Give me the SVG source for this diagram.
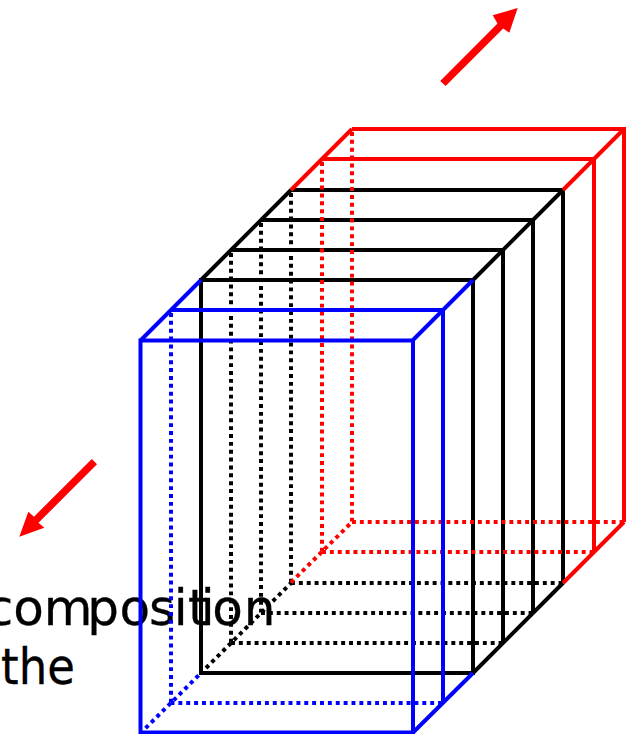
<svg xmlns="http://www.w3.org/2000/svg" width="629" height="734" viewBox="0 0 629 734">
<style>
.t{font-family:"DejaVu Sans",sans-serif;font-size:50px;fill:#000;stroke:#000;stroke-width:.3}
.s,.d{fill:none;stroke-width:4;stroke-linecap:butt;stroke-linejoin:miter}
.d{stroke-dasharray:3.93 3.94}
.k{stroke:#000}.b{stroke:#00f}.r{stroke:#f00}
.a{fill:#f00}
</style>
<rect width="629" height="734" fill="#fff"/>
<g id="caption">
<text class="t" x="-14.300 13.200 43.800 87.200 119.500 149 173.700 188 200.700 212.200 243.800" y="624.500">composition</text>
<text class="t" transform="translate(1 684) scale(.9 1)" x="0" y="0">the</text>
</g>
<g id="connectors">
<g id="black-layers">
<path class="d k" d="M231 253V643M261 223V613M291 193V583M231 643H503M261 613H533M291 583H563"/>
<path class="d k" d="M206 668L291 583"/>
<path class="s k" d="M201 280H473V673H201ZM231 250H503V643M261 220H533V613M291 190H563V583"/>
<path class="s k" d="M201 280L291 190M473 280L563 190M473 673L563 583"/>
</g>
<g id="red-layers">
<path class="d r" d="M322 162V552M352 132V522M322 552H594M352 522H624"/>
<path class="d r" d="M291 582.400L352 522"/>
<path class="s r" d="M322 159H594V552M352 129H624V522"/>
<path class="s r" d="M291 190L352 129M563 190L624 129M563 583L624 522"/>
</g>
<g id="blue-layers">
<path class="d b" d="M171 313V703M170.500 703H443"/>
<path class="d b" d="M145.600 728.100L201 673"/>
<path class="s b" d="M171 310H443V703M140.500 340.500H413V732.500H140.500Z"/>
<path class="s b" d="M140.500 340.500L201 280M413 340L473 280M413 732.500L473 673"/>
</g>
</g>
<g id="arrow-up">
<path class="a" d="M440.200 80.900L497.500 23.600L492.700 15.300L517.700 8L509.300 32.700L503.200 28.500L445.600 86.100Z"/>
</g>
<g id="arrow-down">
<path class="a" d="M97 464.300L38.500 522.800L44.300 527.700L19.300 536.700L28.300 511.700L34 516.700L91.800 458.900Z"/>
</g>
</svg>
